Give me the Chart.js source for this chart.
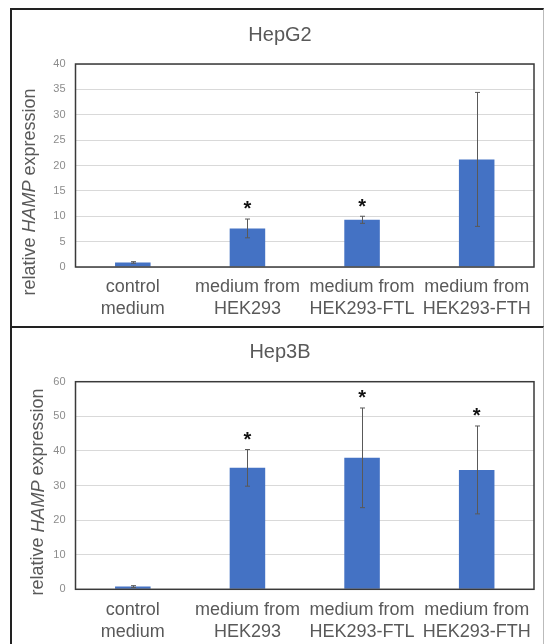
<!DOCTYPE html>
<html>
<head>
<meta charset="utf-8">
<script src="https://cdn.jsdelivr.net/npm/chart.js@4"></script>
<style>
  body { margin:0; background:#fff; width:545px; height:644px; overflow:hidden; position:relative; }
  .panel { position:absolute; left:10px; width:531px; border:2px solid #222; border-right:1px solid #bbb; border-bottom:none; }
  #p1 { top:8px; height:316px; }
  #p2 { top:326px; height:330px; }
  canvas { position:absolute; left:0; }
  #c1 { top:0; }
  #c2 { top:327px; }
</style>
</head>
<body>
<div class="panel" id="p1"></div>
<div class="panel" id="p2"></div>
<canvas id="c1" width="545" height="327"></canvas>
<canvas id="c2" width="545" height="317"></canvas>
<script>
const CATEGORIES = [['control','medium'], ['medium from','HEK293'], ['medium from','HEK293-FTL'], ['medium from','HEK293-FTH']];

const HEPG2_MEAN = [0.9, 7.6, 9.3, 21.2];
const HEPG2_ERR  = [0.15, 1.85, 0.7, 13.2];
const HEPG2_SIG  = [false, true, true, false];
const HEPG2_AXIS = [0, 40, 5];   // min, max, step

const HEP3B_MEAN = [0.8, 35.1, 38.0, 34.5];
const HEP3B_ERR  = [0.25, 5.3, 14.4, 12.7];
const HEP3B_SIG  = [false, true, true, true];
const HEP3B_AXIS = [0, 60, 10];

const FONT = '"Liberation Sans", Arial, sans-serif';

// error bars, plot frame, asterisks, panel title and the mixed-style y title
const panelDeco = {
  id:'panelDeco',
  afterDatasetsDraw(chart, args, o) {
    const ctx = chart.ctx, { left, top, right, bottom } = chart.chartArea;
    const meta = chart.getDatasetMeta(0), ys = chart.scales.y;
    const vals = chart.data.datasets[0].data;
    ctx.save();

    ctx.strokeStyle = '#595959'; ctx.lineWidth = 1;
    o.err.forEach((e, i) => {
      const x = Math.round(meta.data[i].x) + 0.5;
      const y1 = ys.getPixelForValue(vals[i] + e), y2 = ys.getPixelForValue(vals[i] - e);
      ctx.beginPath();
      ctx.moveTo(x, y1); ctx.lineTo(x, y2);
      ctx.moveTo(x - 2.5, y1); ctx.lineTo(x + 2.5, y1);
      ctx.moveTo(x - 2.5, y2); ctx.lineTo(x + 2.5, y2);
      ctx.stroke();
    });

    ctx.strokeStyle = '#3a3a3a'; ctx.lineWidth = 1.5;
    ctx.strokeRect(left, top, right - left, bottom - top);

    ctx.fillStyle = '#111'; ctx.font = `bold 20px ${FONT}`;
    ctx.textAlign = 'center'; ctx.textBaseline = 'alphabetic';
    o.sig.forEach((s, i) => {
      if (!s) return;
      const yTop = ys.getPixelForValue(vals[i] + o.err[i]);
      ctx.fillText('*', meta.data[i].x, yTop - 15 + 11.4);
    });

    ctx.fillStyle = '#595959'; ctx.font = `20px ${FONT}`; ctx.textBaseline = 'middle';
    ctx.fillText(o.title, 280, o.titleY);

    ctx.translate(o.yTitleX, o.yTitleY); ctx.rotate(-Math.PI / 2);
    const parts = [['relative ', ''], ['HAMP', 'italic '], [' expression', '']];
    let w = 0;
    parts.forEach(p => { ctx.font = `${p[1]}18px ${FONT}`; w += ctx.measureText(p[0]).width; });
    let x0 = -w / 2;
    ctx.textAlign = 'left';
    parts.forEach(p => { ctx.font = `${p[1]}18px ${FONT}`; ctx.fillText(p[0], x0, 0); x0 += ctx.measureText(p[0]).width; });
    ctx.restore();
  }
};

function makeChart(id, mean, err, sig, axis, deco, pad, xHeight, xPad) {
  return new Chart(document.getElementById(id), {
    type:'bar',
    data:{
      labels: CATEGORIES,
      datasets:[{ data:mean, backgroundColor:'#4472C4', categoryPercentage:1, barPercentage:0.31 }]
    },
    options:{
      responsive:false, animation:false,
      layout:{ padding:pad },
      plugins:{ legend:{ display:false }, tooltip:{ enabled:false }, panelDeco:{ err, sig, ...deco } },
      scales:{
        x:{
          grid:{ display:false, drawTicks:false }, border:{ display:false },
          ticks:{ color:'#595959', padding:xPad, font:{ family:FONT, size:18, lineHeight:1.22 }, maxRotation:0, autoSkip:false },
          afterFit(s) { s.height = xHeight; }
        },
        y:{
          min:axis[0], max:axis[1],
          grid:{ color:'#d9d9d9', drawTicks:false }, border:{ display:false },
          ticks:{ stepSize:axis[2], color:'#8c8c8c', padding:10, font:{ family:FONT, size:11 } },
          afterFit(s) { s.width = 64.5; }
        }
      }
    },
    plugins:[panelDeco]
  });
}

makeChart('c1', HEPG2_MEAN, HEPG2_ERR, HEPG2_SIG, HEPG2_AXIS,
  { title:'HepG2', titleY:35, yTitleX:30, yTitleY:192 },
  { left:11, right:11, top:64, bottom:0 }, 60, 9);

makeChart('c2', HEP3B_MEAN, HEP3B_ERR, HEP3B_SIG, HEP3B_AXIS,
  { title:'Hep3B', titleY:25, yTitleX:38.5, yTitleY:165 },
  { left:11, right:11, top:54.7, bottom:0 }, 54.7, 10);
</script>
</body>
</html>
